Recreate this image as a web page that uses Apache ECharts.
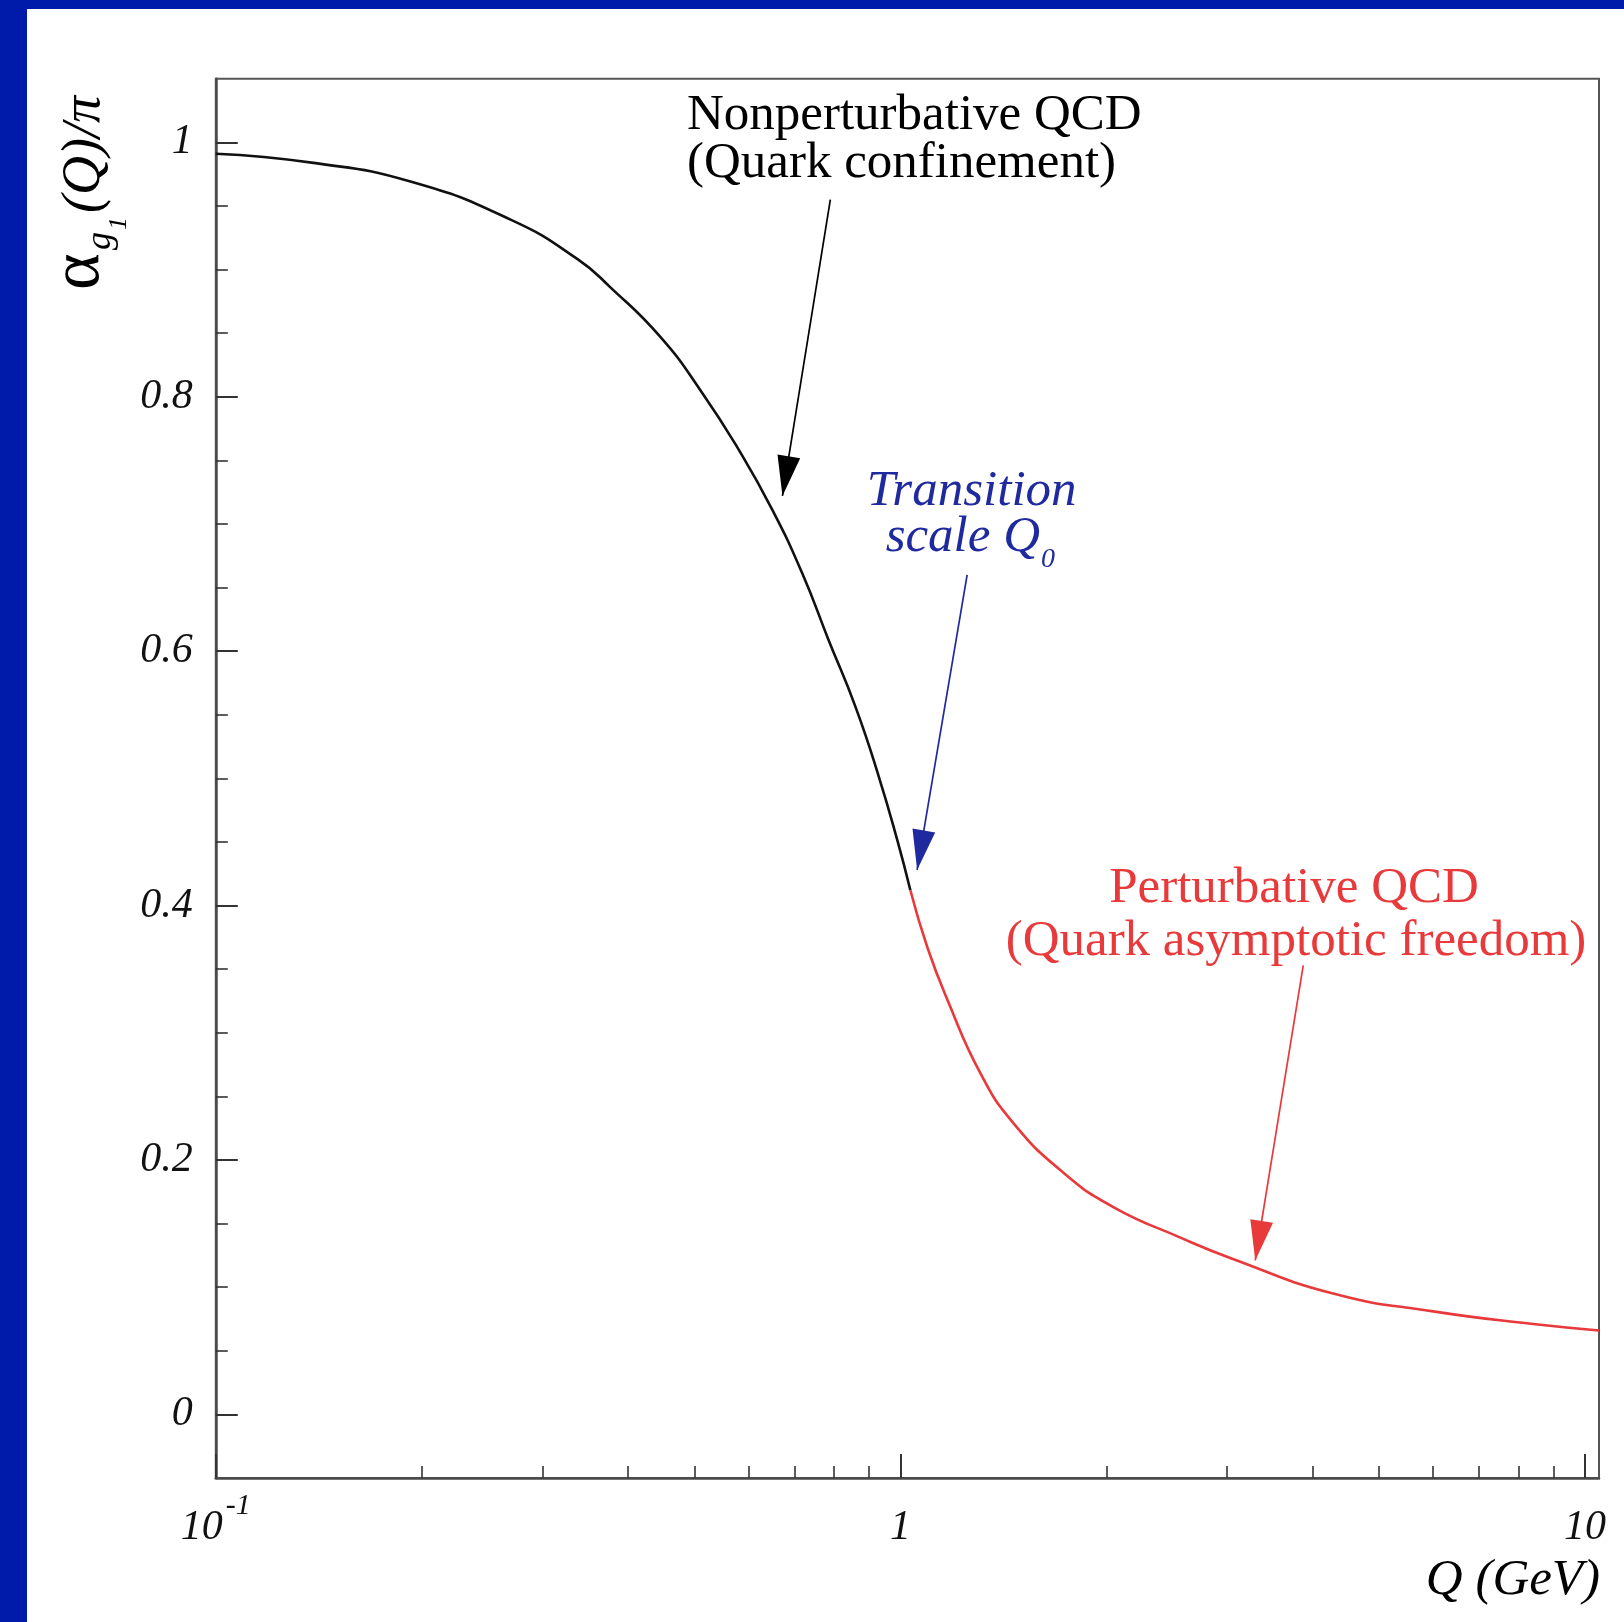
<!DOCTYPE html>
<html>
<head>
<meta charset="utf-8">
<script src="https://cdn.jsdelivr.net/npm/echarts@6/dist/echarts.min.js"></script>
<style>
  html, body { margin: 0; padding: 0; width: 1624px; height: 1622px; overflow: hidden; background: #001aaa; }
  #panel { position: absolute; left: 27px; top: 9px; right: 0; bottom: 0; background: #ffffff; }
  #chart { position: absolute; left: 0; top: 0; width: 1624px; height: 1622px; }
</style>
</head>
<body>
<div id="panel"></div>
<div id="chart"></div>
<script>
// Running coupling alpha_g1(Q)/pi versus Q (GeV), log scale in Q.
// Nonperturbative branch (black)
const qBlack = [0.1, 0.138, 0.193, 0.27, 0.338, 0.377, 0.446, 0.512, 0.581, 0.65, 0.719, 0.785, 0.86, 0.929, 0.99, 1.034];
const alphaBlack = [0.991, 0.984, 0.969, 0.939, 0.908, 0.886, 0.847, 0.804, 0.758, 0.711, 0.661, 0.609, 0.556, 0.502, 0.451, 0.412];
// Perturbative branch (red)
const qRed = [1.034, 1.095, 1.171, 1.309, 1.462, 1.73, 2.046, 2.564, 3.032, 4.286, 6.0, 8.4, 10.48];
const alphaRed = [0.412, 0.367, 0.326, 0.268, 0.229, 0.19, 0.163, 0.139, 0.123, 0.095, 0.081, 0.071, 0.066];

// Annotation arrows: tail and head in (Q, alpha/pi)
const arrowTail = [[0.790, 0.955], [1.2515, 0.660], [3.876, 0.353]];
const arrowHead = [[0.6725, 0.722], [1.0578, 0.428], [3.298, 0.121]];
const arrowColor = ['#000000', '#1f2a9e', '#e8393b'];

// Axis ranges and ticks
const qRange = [0.1, 10.48];
const alphaRange = [-0.05, 1.05];
const xMajor = [0.1, 1, 10];
const xMinor = [0.2, 0.3, 0.4, 0.5, 0.6, 0.7, 0.8, 0.9, 2, 3, 4, 5, 6, 7, 8, 9];
const yMajor = [0, 0.2, 0.4, 0.6, 0.8, 1];
const yMinor = [0.05, 0.1, 0.15, 0.25, 0.3, 0.35, 0.45, 0.5, 0.55, 0.65, 0.7, 0.75, 0.85, 0.9, 0.95];

const FONT = 'Liberation Serif';
const lg = Math.log10;
const BLUE = '#1f2a9e';
const RED = '#e8393b';

const chart = echarts.init(document.getElementById('chart'), null, { renderer: 'canvas' });

function xLabel(v) {
  const e = Math.round(v);
  if (e < 0) return '{n|10}{s|' + e + '}';
  return '{n|' + Math.round(Math.pow(10, v)) + '}';
}

const xAxisBase = {
  type: 'value', gridIndex: 0, position: 'bottom',
  min: lg(qRange[0]), max: lg(qRange[1]),
  splitLine: { show: false }
};
const yAxisBase = {
  type: 'value', gridIndex: 0, position: 'left',
  min: alphaRange[0], max: alphaRange[1],
  splitLine: { show: false }
};

const arrowData = arrowTail.map((t, i) => [
  { coord: [lg(t[0]), t[1]], symbol: 'none',
    lineStyle: { color: arrowColor[i], width: 1.7, type: 'solid' } },
  { coord: [lg(arrowHead[i][0]), arrowHead[i][1]], symbol: 'triangle',
    symbolSize: [23, 40], symbolOffset: [0, 20],
    itemStyle: { color: arrowColor[i] },
    lineStyle: { color: arrowColor[i], width: 1.7, type: 'solid' } }
]);

const option = {
  animation: false,
  backgroundColor: 'transparent',
  textStyle: { fontFamily: FONT },
  grid: {
    left: 215.8, top: 78.7, right: 25, bottom: 144,
    show: true, borderColor: '#555', borderWidth: 2, backgroundColor: 'transparent'
  },
  xAxis: [
    Object.assign({}, xAxisBase, {
      axisLine: { show: true, onZero: false, lineStyle: { color: '#4a4a4a', width: 2.5 } },
      axisTick: { show: true, inside: true, length: 24, customValues: xMajor.map(lg),
                  lineStyle: { color: '#333', width: 2 } },
      axisLabel: {
        show: true, customValues: xMajor.map(lg), formatter: xLabel, margin: 13,
        color: '#111',
        rich: {
          n: { fontFamily: FONT, fontStyle: 'italic', fontSize: 42, lineHeight: 58,
               verticalAlign: 'bottom', padding: [16, 0, 0, 0], color: '#111' },
          s: { fontFamily: FONT, fontStyle: 'italic', fontSize: 30, lineHeight: 30,
               verticalAlign: 'top', padding: [0, 0, 0, 3], color: '#111' }
        }
      }
    }),
    Object.assign({}, xAxisBase, {
      axisLine: { show: false, onZero: false },
      axisTick: { show: true, inside: true, length: 12, customValues: xMinor.map(lg),
                  lineStyle: { color: '#333', width: 1.6 } },
      axisLabel: { show: false }
    })
  ],
  yAxis: [
    Object.assign({}, yAxisBase, {
      axisLine: { show: true, onZero: false, lineStyle: { color: '#4a4a4a', width: 2.5 } },
      axisTick: { show: true, inside: true, length: 22, customValues: yMajor,
                  lineStyle: { color: '#333', width: 2 } },
      axisLabel: { show: true, customValues: yMajor, formatter: v => String(v), margin: 23,
                   fontFamily: FONT, fontStyle: 'italic', fontSize: 42, color: '#111' }
    }),
    Object.assign({}, yAxisBase, {
      axisLine: { show: false, onZero: false },
      axisTick: { show: true, inside: true, length: 12, customValues: yMinor,
                  lineStyle: { color: '#333', width: 1.6 } },
      axisLabel: { show: false }
    })
  ],
  series: [
    {
      name: 'Nonperturbative QCD', type: 'line', xAxisIndex: 0, yAxisIndex: 0,
      data: qBlack.map((q, i) => [lg(q), alphaBlack[i]]),
      symbol: 'none', smooth: 0.5, clip: true,
      lineStyle: { color: '#111', width: 2.6 },
      markLine: {
        silent: true, animation: false,
        symbol: ['none', 'triangle'],
        label: { show: false },
        emphasis: { disabled: true },
        data: arrowData
      }
    },
    {
      name: 'Perturbative QCD', type: 'line', xAxisIndex: 0, yAxisIndex: 0,
      data: qRed.map((q, i) => [lg(q), alphaRed[i]]),
      symbol: 'none', smooth: 0.5, clip: true,
      lineStyle: { color: RED, width: 2.6 }
    }
  ],
  graphic: [
    // annotation: nonperturbative regime
    { type: 'text', x: 687, y: 115.5, silent: true,
      style: { text: 'Nonperturbative QCD', fontFamily: FONT, fontSize: 51, fill: '#000',
               align: 'left', verticalAlign: 'middle' } },
    { type: 'text', x: 687, y: 163.5, silent: true,
      style: { text: '(Quark confinement)', fontFamily: FONT, fontSize: 51, fill: '#000',
               align: 'left', verticalAlign: 'middle' } },
    // annotation: transition scale
    { type: 'text', x: 971.7, y: 491.5, silent: true,
      style: { text: 'Transition', fontFamily: FONT, fontStyle: 'italic', fontSize: 51, fill: BLUE,
               align: 'center', verticalAlign: 'middle' } },
    { type: 'text', x: 1040, y: 537.5, silent: true,
      style: { text: 'scale Q', fontFamily: FONT, fontStyle: 'italic', fontSize: 51, fill: BLUE,
               align: 'right', verticalAlign: 'middle' } },
    { type: 'text', x: 1041, y: 560, silent: true,
      style: { text: '0', fontFamily: FONT, fontStyle: 'italic', fontSize: 28, fill: BLUE,
               align: 'left', verticalAlign: 'middle' } },
    // annotation: perturbative regime
    { type: 'text', x: 1294, y: 889, silent: true,
      style: { text: 'Perturbative QCD', fontFamily: FONT, fontSize: 51, fill: RED,
               align: 'center', verticalAlign: 'middle' } },
    { type: 'text', x: 1296, y: 942, silent: true,
      style: { text: '(Quark asymptotic freedom)', fontFamily: FONT, fontSize: 51, fill: RED,
               align: 'center', verticalAlign: 'middle' } },
    // x axis title
    { type: 'text', x: 1600, y: 1580.5, silent: true,
      style: { text: 'Q (GeV)', fontFamily: FONT, fontStyle: 'italic', fontSize: 51, fill: '#000',
               align: 'right', verticalAlign: 'middle' } },
    // y axis title, written along the axis (bottom to top)
    { type: 'group', x: 103, y: 290, rotation: Math.PI / 2, silent: true,
      children: [
        { type: 'text', x: 0, y: -23.6,
          style: { text: 'α', fontFamily: FONT, fontSize: 70, fill: '#000',
                   align: 'left', verticalAlign: 'middle' } },
        { type: 'text', x: 40, y: -2.2,
          style: { text: 'g', fontFamily: FONT, fontStyle: 'italic', fontSize: 36, fill: '#000',
                   align: 'left', verticalAlign: 'middle' } },
        { type: 'text', x: 60, y: 16.2,
          style: { text: '1', fontFamily: FONT, fontStyle: 'italic', fontSize: 26, fill: '#000',
                   align: 'left', verticalAlign: 'middle' } },
        { type: 'text', x: 77, y: -18.2,
          style: { text: '(Q)/π', fontFamily: FONT, fontStyle: 'italic', fontSize: 54, fill: '#000',
                   align: 'left', verticalAlign: 'middle' } }
      ] }
  ]
};

chart.setOption(option);
</script>
</body>
</html>
